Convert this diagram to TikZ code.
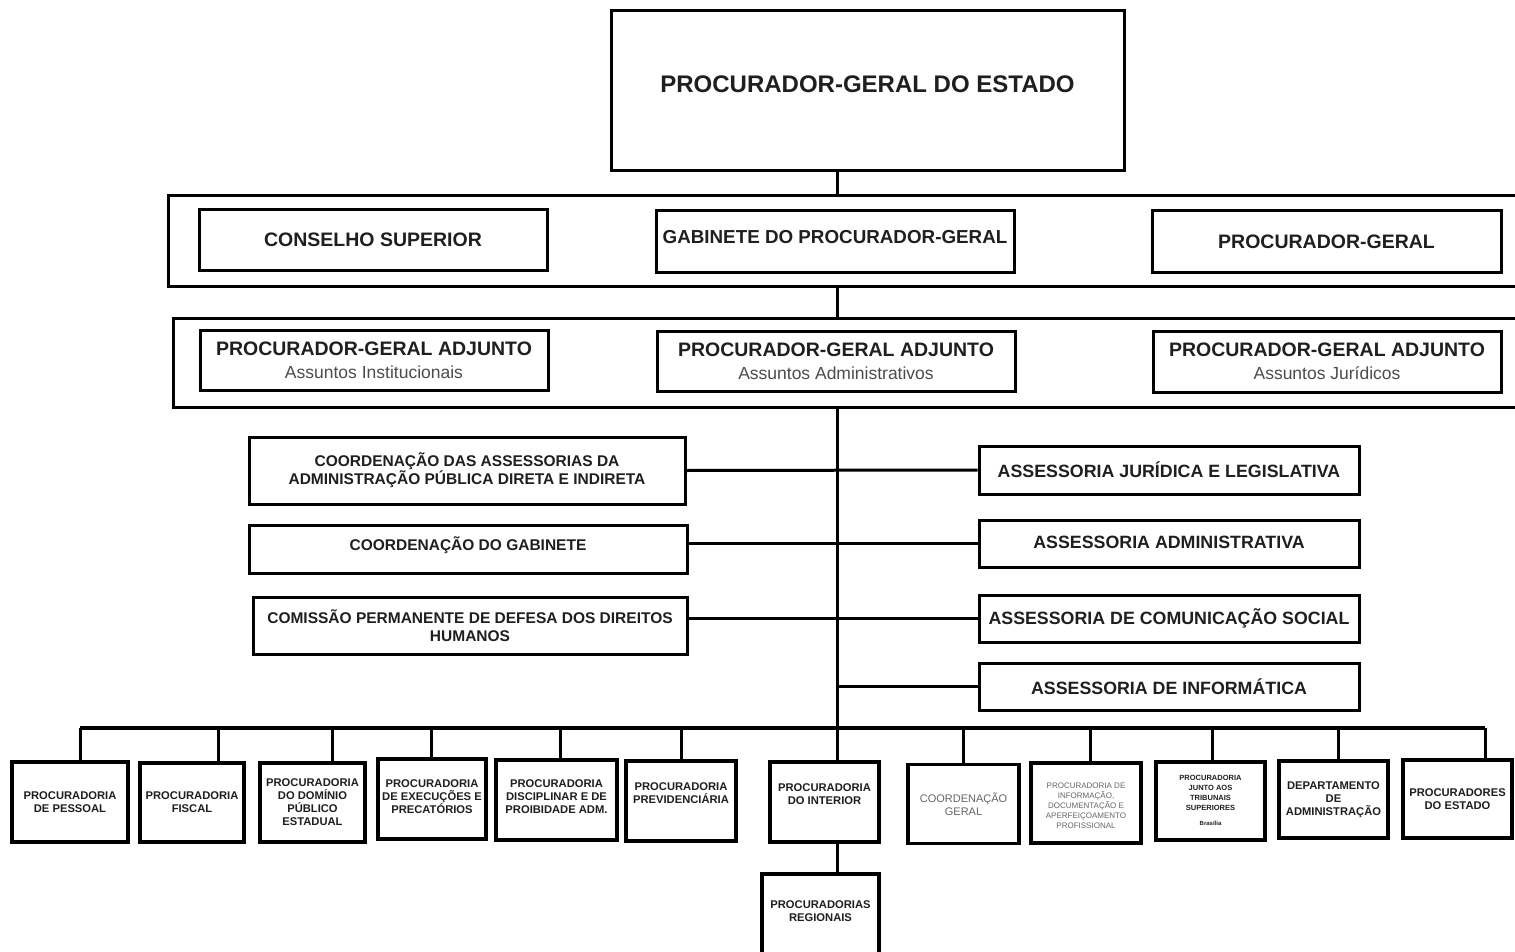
\documentclass[tikz,border=0pt]{standalone}
\usepackage{fontspec}
\setmainfont{Liberation Sans}
\newcommand\fsz[2]{\fontsize{#1}{#2}\selectfont}
\begin{document}
\begin{tikzpicture}[x=1pt,y=-1pt,
  box/.style={draw=black,line width=3pt,fill=white,align=center,inner sep=0pt,text=black!88},
  sbox/.style={box,line width=3.5pt},
  lbl/.style={align=center,inner sep=0pt,text=black!88},
  wire/.style={line width=3pt},
  bigt/.style={font=\bfseries\fsz{24}{28}},
  rowt/.style={font=\bfseries\fsz{19.5}{22}},
  pga/.style={font=\fsz{17.5}{23}},
  midl/.style={font=\bfseries\fsz{15.5}{18}},
  midr/.style={font=\bfseries\fsz{17.8}{20}},
  bott/.style={font=\bfseries\fsz{11.2}{13}},
  grayt/.style={font=\fsz{11}{13},text=black!60}]
\useasboundingbox (0,0) rectangle (1515,952);
\fill[white] (0,0) rectangle (1515,952);
\coordinate (tx) at (837,0);

% top
\node[box,minimum width=513pt,minimum height=160pt] (pge) at (867.5,91) {};
\node[lbl,bigt] (pget) at (867.5,84) {PROCURADOR-GERAL DO ESTADO};

% container 1
\node[box,minimum width=1362pt,minimum height=90pt] (c1) at (849,241) {};
\node[box,rowt,minimum width=348pt,minimum height=60pt] (cs) at (373,240) {CONSELHO SUPERIOR};
\node[box,minimum width=358pt,minimum height=61pt] (gab) at (835,241.5) {};
\node[lbl,font=\bfseries\fsz{18.8}{22}] (gabt) at (835,237) {GABINETE DO PROCURADOR-GERAL};
\node[box,rowt,minimum width=349pt,minimum height=61pt] (pg) at (1326.5,241.5) {PROCURADOR-GERAL};

% container 2
\node[box,minimum width=1357pt,minimum height=89pt] (c2) at (851.5,362.5) {};
\node[box,pga,minimum width=348pt,minimum height=60pt] (pgai) at (374,360) {{\bfseries\fsz{19.5}{23}PROCURADOR-GERAL ADJUNTO}\\{\color{black!70}Assuntos Institucionais}};
\node[box,pga,minimum width=358pt,minimum height=60pt] (pgaa) at (836,361) {{\bfseries\fsz{19.5}{23}PROCURADOR-GERAL ADJUNTO}\\{\color{black!70}Assuntos Administrativos}};
\node[box,pga,minimum width=348pt,minimum height=61pt] (pgaj) at (1327,361.5) {{\bfseries\fsz{19.5}{23}PROCURADOR-GERAL ADJUNTO}\\{\color{black!70}Assuntos Jurídicos}};

% middle left
\node[box,midl,minimum width=436pt,minimum height=67pt] (ca) at (467,470.5) {COORDENAÇÃO DAS ASSESSORIAS DA\\ADMINISTRAÇÃO PÚBLICA DIRETA E INDIRETA};
\node[box,minimum width=438pt,minimum height=48pt] (cg) at (468,549) {};
\node[lbl,midl] (cgt) at (468,545) {COORDENAÇÃO DO GABINETE};
\node[box,midl,minimum width=434pt,minimum height=57pt] (cm) at (470,625.5) {COMISSÃO PERMANENTE DE DEFESA DOS DIREITOS\\HUMANOS};

% middle right
\node[box,midr,minimum width=380pt,minimum height=48pt] (ajl) at (1169,470) {ASSESSORIA JURÍDICA E LEGISLATIVA};
\node[box,minimum width=380pt,minimum height=47pt] (aa) at (1169,543.5) {};
\node[lbl,midr] (aat) at (1169,542) {ASSESSORIA ADMINISTRATIVA};
\node[box,midr,minimum width=380pt,minimum height=47pt] (acs) at (1169,618.5) {ASSESSORIA DE COMUNICAÇÃO SOCIAL};
\node[box,midr,minimum width=380pt,minimum height=47pt] (ai) at (1169,686.5) {ASSESSORIA DE INFORMÁTICA};

% bottom row
\node[sbox,bott,minimum width=116pt,minimum height=80pt] (b1) at (70,802) {PROCURADORIA\\DE PESSOAL};
\node[sbox,bott,minimum width=104pt,minimum height=79pt] (b2) at (192,802.5) {PROCURADORIA\\FISCAL};
\node[sbox,bott,minimum width=105pt,minimum height=79pt] (b3) at (312.5,802.5) {PROCURADORIA\\DO DOMÍNIO\\PÚBLICO\\ESTADUAL};
\node[sbox,minimum width=108pt,minimum height=80pt] (b4) at (432,799) {};
\node[lbl,bott] (b4t) at (432,797) {PROCURADORIA\\DE EXECUÇÕES E\\PRECATÓRIOS};
\node[sbox,minimum width=121pt,minimum height=80pt] (b5) at (556.5,800) {};
\node[lbl,bott] (b5t) at (556.5,797) {PROCURADORIA\\DISCIPLINAR E DE\\PROIBIDADE ADM.};
\node[sbox,minimum width=110pt,minimum height=80pt] (b6) at (681,801) {};
\node[lbl,bott] (b6t) at (681,793) {PROCURADORIA\\PREVIDENCIÁRIA};
\node[sbox,minimum width=109pt,minimum height=80pt] (b7) at (824.5,802) {};
\node[lbl,bott] (b7t) at (824.5,794) {PROCURADORIA\\DO INTERIOR};
\node[sbox,grayt,minimum width=111pt,minimum height=79pt] (b8) at (963.5,804) {COORDENAÇÃO\\GERAL};
\node[sbox,minimum width=110pt,minimum height=80pt] (b9) at (1086,803) {};
\node[lbl,font=\fsz{8}{10},text=black!60] (b9t) at (1086,806) {PROCURADORIA DE\\INFORMAÇÃO,\\DOCUMENTAÇÃO E\\APERFEIÇOAMENTO\\PROFISSIONAL};
\node[sbox,minimum width=109pt,minimum height=78pt] (b10) at (1210.5,801) {};
\node[lbl,font=\bfseries\fsz{7.5}{10}] (b10t) at (1210.5,800) {PROCURADORIA\\JUNTO AOS\\TRIBUNAIS\\SUPERIORES\\[5pt]{\fsz{6}{8}Brasília}};
\node[sbox,bott,minimum width=109pt,minimum height=77pt] (b11) at (1333.5,799.5) {DEPARTAMENTO\\DE\\ADMINISTRAÇÃO};
\node[sbox,bott,minimum width=109pt,minimum height=78pt] (b12) at (1457.5,799) {PROCURADORES\\DO ESTADO};

\node[sbox,minimum width=117pt,minimum height=86pt] (reg) at (820.5,917) {};
\node[lbl,bott] (regt) at (820.5,911) {PROCURADORIAS\\REGIONAIS};

% connectors
\draw[wire] (pge.south -| tx) -- (c1.north -| tx);
\draw[wire] (c1.south -| tx) -- (c2.north -| tx);
\draw[wire] (c2.south -| tx) -- (b7.north -| tx);
\draw[wire] (ca.east) -- (ajl.west);
\draw[wire] (cg.east |- aa.west) -- (aa.west);
\draw[wire] (cm.east |- acs.west) -- (acs.west);
\draw[wire] (ai.west -| tx) -- (ai.west);
\draw[wire] (b7.south -| tx) -- (reg.north -| tx);

\coordinate (d1) at (80,728);
\coordinate (d2) at (218,728);
\coordinate (d3) at (332,728);
\coordinate (d4) at (431,728);
\coordinate (d5) at (560,728);
\coordinate (d6) at (681,728);
\coordinate (d8) at (963,728);
\coordinate (d9) at (1090,728);
\coordinate (d10) at (1212,728);
\coordinate (d11) at (1338,728);
\coordinate (d12) at (1485,728);
\draw[line width=3.5pt] (d1) -- (d12);
\foreach \i in {1,2,3,4,5,6,8,9,10,11,12}{
  \draw[wire] (d\i) -- (d\i |- b\i.north);
}
\end{tikzpicture}
\end{document}
